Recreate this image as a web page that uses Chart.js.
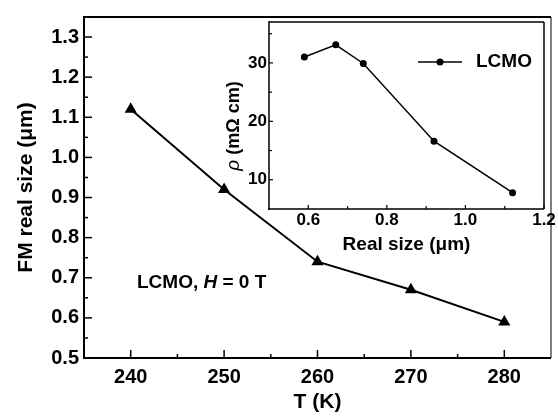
<!DOCTYPE html>
<html>
<head>
<meta charset="utf-8">
<script src="https://cdn.jsdelivr.net/npm/chart.js@4/dist/chart.umd.min.js"></script>
<style>
body { margin: 0; background: #fff; }
#wrap { position: relative; width: 558px; height: 417px; }
canvas { position: absolute; left: 0; top: 0; }
</style>
</head>
<body>
<div id="wrap">
	<canvas id="principal" width="558" height="417"></canvas>
	<canvas id="inset" width="558" height="417"></canvas>
</div>
<script>
// dados do grafico principal
const temps = [240, 250, 260, 270, 280]
const fmSize = [1.12, 0.92, 0.74, 0.67, 0.59]
const xTicks = [240, 250, 260, 270, 280]
const yTicks = [0.5, 0.6, 0.7, 0.8, 0.9, 1.0, 1.1, 1.2, 1.3]
const xMinor = [245, 255, 265, 275]
const yMinor = [0.55, 0.65, 0.75, 0.85, 0.95, 1.05, 1.15, 1.25]

// dados do inset
const realSize = [0.59, 0.67, 0.74, 0.92, 1.12]
const rho = [31.0, 33.1, 29.9, 16.6, 7.8]
const insetXTicks = [0.6, 0.8, 1.0, 1.2]
const insetYTicks = [10, 20, 30]
const insetXMinor = [0.7, 0.9, 1.1]
const insetYMinor = [15, 25, 35]

const FONTE = "'Liberation Sans', Arial, sans-serif"

function linha(ctx, x1, y1, x2, y2) {
	ctx.beginPath()
	ctx.moveTo(x1, y1)
	ctx.lineTo(x2, y2)
	ctx.stroke()
}

// ticks pra dentro + moldura
const marcas = {
	id: "marcas",
	afterDraw(chart, args, o) {
		const ctx = chart.ctx
		const a = chart.chartArea
		const sx = chart.scales.x
		const sy = chart.scales.y
		ctx.save()
		ctx.strokeStyle = "#000"
		ctx.lineWidth = o.tickWidth
		for (const v of o.xMaj) {
			const p = sx.getPixelForValue(v)
			linha(ctx, p, a.bottom, p, a.bottom - o.major)
		}
		for (const v of o.xMin) {
			const p = sx.getPixelForValue(v)
			linha(ctx, p, a.bottom, p, a.bottom - o.minor)
		}
		for (const v of o.yMaj) {
			const p = sy.getPixelForValue(v)
			linha(ctx, a.left, p, a.left + o.major, p)
		}
		for (const v of o.yMin) {
			const p = sy.getPixelForValue(v)
			linha(ctx, a.left, p, a.left + o.minor, p)
		}
		ctx.lineWidth = o.frame[0]
		linha(ctx, a.left, a.top, a.right, a.top)
		linha(ctx, a.left, a.top - 1, a.left, a.bottom + 1)
		linha(ctx, a.left - 1, a.bottom, a.right, a.bottom)
		ctx.lineWidth = o.frame[1]
		linha(ctx, a.right, a.top, a.right, a.bottom)
		ctx.restore()
	},
}

// textos soltos (anotacao, legenda do inset, titulo y do inset)
function textoMisto(ctx, partes, x, y) {
	let cx = x
	for (const p of partes) {
		ctx.font = p[1]
		ctx.fillText(p[0], cx, y)
		cx += ctx.measureText(p[0]).width
	}
}

function larguraMista(ctx, partes) {
	let w = 0
	for (const p of partes) {
		ctx.font = p[1]
		w += ctx.measureText(p[0]).width
	}
	return w
}

const anotacao = {
	id: "anotacao",
	afterDraw(chart) {
		const ctx = chart.ctx
		ctx.save()
		ctx.fillStyle = "#000"
		ctx.textBaseline = "middle"
		textoMisto(ctx, [
			["LCMO, ", "bold 19px " + FONTE],
			["H", "italic bold 19px " + FONTE],
			[" = 0 T", "bold 19px " + FONTE],
		], 137, 283)
		ctx.restore()
	},
}

const extrasInset = {
	id: "extrasInset",
	afterDraw(chart) {
		const ctx = chart.ctx
		ctx.save()
		ctx.fillStyle = "#000"
		ctx.strokeStyle = "#000"
		// legenda
		ctx.lineWidth = 1.5
		linha(ctx, 418, 62, 462, 62)
		ctx.beginPath()
		ctx.arc(440, 62, 3.5, 0, Math.PI * 2)
		ctx.fill()
		ctx.textBaseline = "middle"
		ctx.font = "bold 19px " + FONTE
		ctx.fillText("LCMO", 476, 62)
		// titulo do eixo y
		const partes = [
			["\u03c1", "italic 19px " + FONTE],
			[" (m\u03a9 cm)", "bold 18px " + FONTE],
		]
		const w = larguraMista(ctx, partes)
		ctx.translate(234, 126)
		ctx.rotate(-Math.PI / 2)
		textoMisto(ctx, partes, -w / 2, 0)
		ctx.restore()
	},
}

new Chart(document.getElementById("principal"), {
	type: "line",
	data: {
		datasets: [
			{
				data: temps.map((t, i) => ({ x: t, y: fmSize[i] })),
				borderColor: "#000",
				borderWidth: 2,
				pointStyle: "triangle",
				pointRadius: 7,
				pointBackgroundColor: "#000",
				pointBorderWidth: 0,
				tension: 0,
			},
		],
	},
	options: {
		responsive: false,
		animation: false,
		layout: { padding: { left: 0, top: 12, right: 1, bottom: 0 } },
		plugins: {
			legend: { display: false },
			tooltip: { enabled: false },
			marcas: {
				xMaj: xTicks, xMin: xMinor, yMaj: yTicks, yMin: yMinor,
				major: 8, minor: 4, tickWidth: 1.5, frame: [2, 1],
			},
		},
		scales: {
			x: {
				type: "linear",
				min: 235,
				max: 285,
				afterBuildTicks: (s) => { s.ticks = xTicks.map((v) => ({ value: v })) },
				afterFit: (s) => { s.height = 59 },
				grid: { display: false, drawTicks: false },
				border: { display: false },
				ticks: { color: "#000", padding: 7, font: { family: FONTE, size: 20, weight: "bold" } },
				title: {
					display: true, text: "T (K)", color: "#000",
					font: { family: FONTE, size: 21, weight: "bold" },
					padding: { top: 0, bottom: 2 },
				},
			},
			y: {
				type: "linear",
				min: 0.5,
				max: 1.35,
				afterBuildTicks: (s) => { s.ticks = yTicks.map((v) => ({ value: v })) },
				afterFit: (s) => { s.width = 84 },
				grid: { display: false, drawTicks: false },
				border: { display: false },
				ticks: {
					color: "#000", padding: 5,
					font: { family: FONTE, size: 20, weight: "bold" },
					callback: (v) => v.toFixed(1),
				},
				title: {
					display: true, text: "FM real size (\u03bcm)", color: "#000",
					font: { family: FONTE, size: 21, weight: "bold" },
					padding: { top: 14, bottom: 0 },
				},
			},
		},
	},
	plugins: [marcas, anotacao],
})

new Chart(document.getElementById("inset"), {
	type: "line",
	data: {
		datasets: [
			{
				data: realSize.map((r, i) => ({ x: r, y: rho[i] })),
				borderColor: "#000",
				borderWidth: 1.5,
				pointStyle: "circle",
				pointRadius: 3.5,
				pointBackgroundColor: "#000",
				pointBorderWidth: 0,
				tension: 0,
			},
		],
	},
	options: {
		responsive: false,
		animation: false,
		layout: { padding: { left: 230, top: 22, right: 14, bottom: 160 } },
		plugins: {
			legend: { display: false },
			tooltip: { enabled: false },
			marcas: {
				xMaj: insetXTicks, xMin: insetXMinor, yMaj: insetYTicks, yMin: insetYMinor,
				major: 4, minor: 3, tickWidth: 1.2, frame: [1.5, 1.5],
			},
		},
		scales: {
			x: {
				type: "linear",
				min: 0.5,
				max: 1.2,
				afterBuildTicks: (s) => { s.ticks = insetXTicks.map((v) => ({ value: v })) },
				afterFit: (s) => { s.height = 48 },
				grid: { display: false, drawTicks: false },
				border: { display: false },
				ticks: {
					color: "#000", padding: 1,
					font: { family: FONTE, size: 17, weight: "bold" },
					callback: (v) => v.toFixed(1),
				},
				title: {
					display: true, text: "Real size (\u03bcm)", color: "#000",
					font: { family: FONTE, size: 19, weight: "bold" },
					padding: { top: 0, bottom: 1 },
				},
			},
			y: {
				type: "linear",
				min: 5,
				max: 37,
				afterBuildTicks: (s) => { s.ticks = insetYTicks.map((v) => ({ value: v })) },
				afterFit: (s) => { s.width = 39 },
				grid: { display: false, drawTicks: false },
				border: { display: false },
				ticks: { color: "#000", padding: 2, font: { family: FONTE, size: 17, weight: "bold" } },
			},
		},
	},
	plugins: [marcas, extrasInset],
})
</script>
</body>
</html>
